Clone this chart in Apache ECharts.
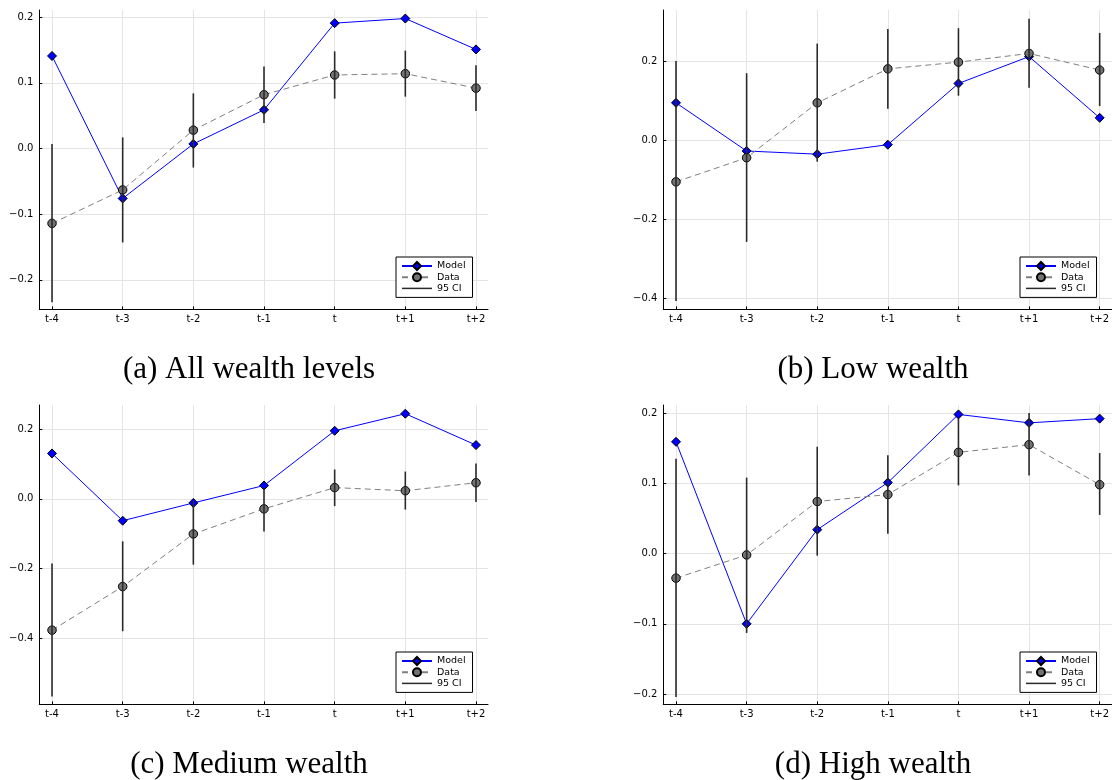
<!DOCTYPE html>
<html><head><meta charset="utf-8">
<script src="https://cdn.jsdelivr.net/npm/echarts@6/dist/echarts.min.js"></script>
<style>html,body{margin:0;padding:0;background:#fff}#c{width:1112px;height:780px}</style>
</head><body><div id="c"></div>
<script>
const categories = ['t-4', 't-3', 't-2', 't-1', 't', 't+1', 't+2'];
const captions = ['(a) All wealth levels', '(b) Low wealth', '(c) Medium wealth', '(d) High wealth'];
const seriesNames = ['Model', 'Data', '95 CI'];

// (a) All wealth levels
const modelAll = [0.141, -0.076, 0.007, 0.059, 0.191, 0.198, 0.151];
const dataAll = [-0.114, -0.063, 0.028, 0.082, 0.112, 0.114, 0.092];
const ciLowAll = [-0.234, -0.143, -0.029, 0.039, 0.076, 0.079, 0.057];
const ciHighAll = [0.007, 0.017, 0.084, 0.125, 0.148, 0.149, 0.127];
const yTicksAll = [-0.2, -0.1, 0.0, 0.1, 0.2];

// (b) Low wealth
const modelLow = [0.095, -0.027, -0.035, -0.011, 0.144, 0.212, 0.057];
const dataLow = [-0.105, -0.044, 0.095, 0.181, 0.198, 0.220, 0.178];
const ciLowLow = [-0.407, -0.257, -0.054, 0.080, 0.113, 0.133, 0.087];
const ciHighLow = [0.201, 0.170, 0.245, 0.282, 0.284, 0.308, 0.272];
const yTicksLow = [-0.4, -0.2, 0.0, 0.2];

// (c) Medium wealth
const modelMed = [0.130, -0.063, -0.012, 0.038, 0.195, 0.244, 0.154];
const dataMed = [-0.377, -0.252, -0.101, -0.029, 0.032, 0.023, 0.046];
const ciLowMed = [-0.567, -0.380, -0.189, -0.094, -0.021, -0.031, -0.009];
const ciHighMed = [-0.186, -0.122, -0.007, 0.031, 0.084, 0.078, 0.101];
const yTicksMed = [-0.4, -0.2, 0.0, 0.2];

// (d) High wealth
const modelHigh = [0.159, -0.100, 0.034, 0.101, 0.198, 0.186, 0.192];
const dataHigh = [-0.035, -0.002, 0.074, 0.084, 0.144, 0.155, 0.098];
const ciLowHigh = [-0.204, -0.113, -0.003, 0.028, 0.097, 0.111, 0.055];
const ciHighHigh = [0.135, 0.108, 0.152, 0.140, 0.192, 0.200, 0.143];
const yTicksHigh = [-0.2, -0.1, 0.0, 0.1, 0.2];

const panels = [
  {model: modelAll, data: dataAll, lo: ciLowAll, hi: ciHighAll, ticks: yTicksAll, ymin: -0.245, ymax: 0.211,
   left: 39.3, top: 10, legendLeft: 396, legendTop: 257, capX: 249, capY: 370},
  {model: modelLow, data: dataLow, lo: ciLowLow, hi: ciHighLow, ticks: yTicksLow, ymin: -0.428, ymax: 0.33,
   left: 663.3, top: 10, legendLeft: 1020, legendTop: 257, capX: 873, capY: 370},
  {model: modelMed, data: dataMed, lo: ciLowMed, hi: ciHighMed, ticks: yTicksMed, ymin: -0.59, ymax: 0.269,
   left: 39.3, top: 405, legendLeft: 396, legendTop: 652, capX: 249, capY: 765},
  {model: modelHigh, data: dataHigh, lo: ciLowHigh, hi: ciHighHigh, ticks: yTicksHigh, ymin: -0.2147, ymax: 0.2114,
   left: 663.3, top: 405, legendLeft: 1020, legendTop: 652, capX: 873, capY: 765}
];

const xIdx = categories.map((c, i) => i);
const fmtY = v => (v < 0 ? '\u2212' : '') + Math.abs(v).toFixed(1);
const tickFont = {fontSize: 10, color: '#000', fontFamily: 'DejaVu Sans'};

const grid = [], xAxis = [], yAxis = [], series = [], legend = [], graphic = [];
panels.forEach((p, k) => {
  grid.push({left: p.left, top: p.top, width: 448.7, height: 299.4, containLabel: false});
  xAxis.push({
    gridIndex: k, type: 'value', min: -0.18, max: 6.17,
    axisLine: {show: true, onZero: false, lineStyle: {color: '#000', width: 1}},
    axisTick: {show: true, inside: true, length: 3, customValues: xIdx, lineStyle: {color: '#000'}},
    axisLabel: Object.assign({customValues: xIdx, margin: 5, formatter: v => categories[Math.round(v)]}, tickFont),
    splitLine: {show: true, customValues: xIdx, lineStyle: {color: '#e4e4e4', width: 1}}
  });
  yAxis.push({
    gridIndex: k, type: 'value', min: p.ymin, max: p.ymax,
    axisLine: {show: true, onZero: false, lineStyle: {color: '#000', width: 1}},
    axisTick: {show: true, inside: true, length: 3, customValues: p.ticks, lineStyle: {color: '#000'}},
    axisLabel: Object.assign({customValues: p.ticks, margin: 6, formatter: fmtY}, tickFont),
    splitLine: {show: true, customValues: p.ticks, lineStyle: {color: '#e4e4e4', width: 1}}
  });
  series.push({
    name: 'Model', type: 'line', xAxisIndex: k, yAxisIndex: k,
    data: p.model.map((v, i) => [i, v]),
    symbol: 'diamond', symbolSize: 9,
    itemStyle: {color: '#0000ff', borderColor: '#000', borderWidth: 1},
    lineStyle: {color: '#0000ff', width: 1},
    animation: false, z: 2
  });
  series.push({
    name: 'Data', type: 'line', xAxisIndex: k, yAxisIndex: k,
    data: p.data.map((v, i) => [i, v]),
    symbol: 'circle', symbolSize: 8.5,
    itemStyle: {color: '#737373', borderColor: '#000', borderWidth: 1},
    lineStyle: {color: '#808080', width: 1, type: [6, 4]},
    animation: false, z: 3
  });
  series.push({
    name: '95 CI', type: 'custom', xAxisIndex: k, yAxisIndex: k,
    data: p.lo.map((v, i) => [i, v, p.hi[i]]),
    encode: {x: 0, y: [1, 2]},
    itemStyle: {color: '#2a2a2a'},
    renderItem: (params, api) => {
      const a = api.coord([api.value(0), api.value(1)]);
      const b = api.coord([api.value(0), api.value(2)]);
      return {type: 'line', shape: {x1: a[0], y1: a[1], x2: b[0], y2: b[1]},
              style: {stroke: '#2a2a2a', lineWidth: 1.6}};
    },
    animation: false, z: 4
  });
  legend.push({
    orient: 'vertical', left: p.legendLeft, top: p.legendTop,
    data: [{name: 'Model'}, {name: 'Data'}, {name: '95 CI', icon: 'path://M0,0H40V2H0Z'}],
    itemWidth: 30, itemHeight: 10, itemGap: 1.2,
    padding: [4, 7, 4, 5],
    borderColor: '#000', borderWidth: 1, backgroundColor: '#fff',
    textStyle: {fontSize: 9.5, color: '#000', fontFamily: 'DejaVu Sans'},
    selectedMode: false
  });
  graphic.push({
    type: 'text', x: p.capX, y: p.capY,
    style: {text: captions[k], fill: '#000', font: '31px "Liberation Serif"', align: 'center', verticalAlign: 'middle'}
  });
});

const chart = echarts.init(document.getElementById('c'), null, {renderer: 'canvas'});
chart.setOption({animation: false, backgroundColor: '#fff', grid, xAxis, yAxis, series, legend, graphic});
</script></body></html>
